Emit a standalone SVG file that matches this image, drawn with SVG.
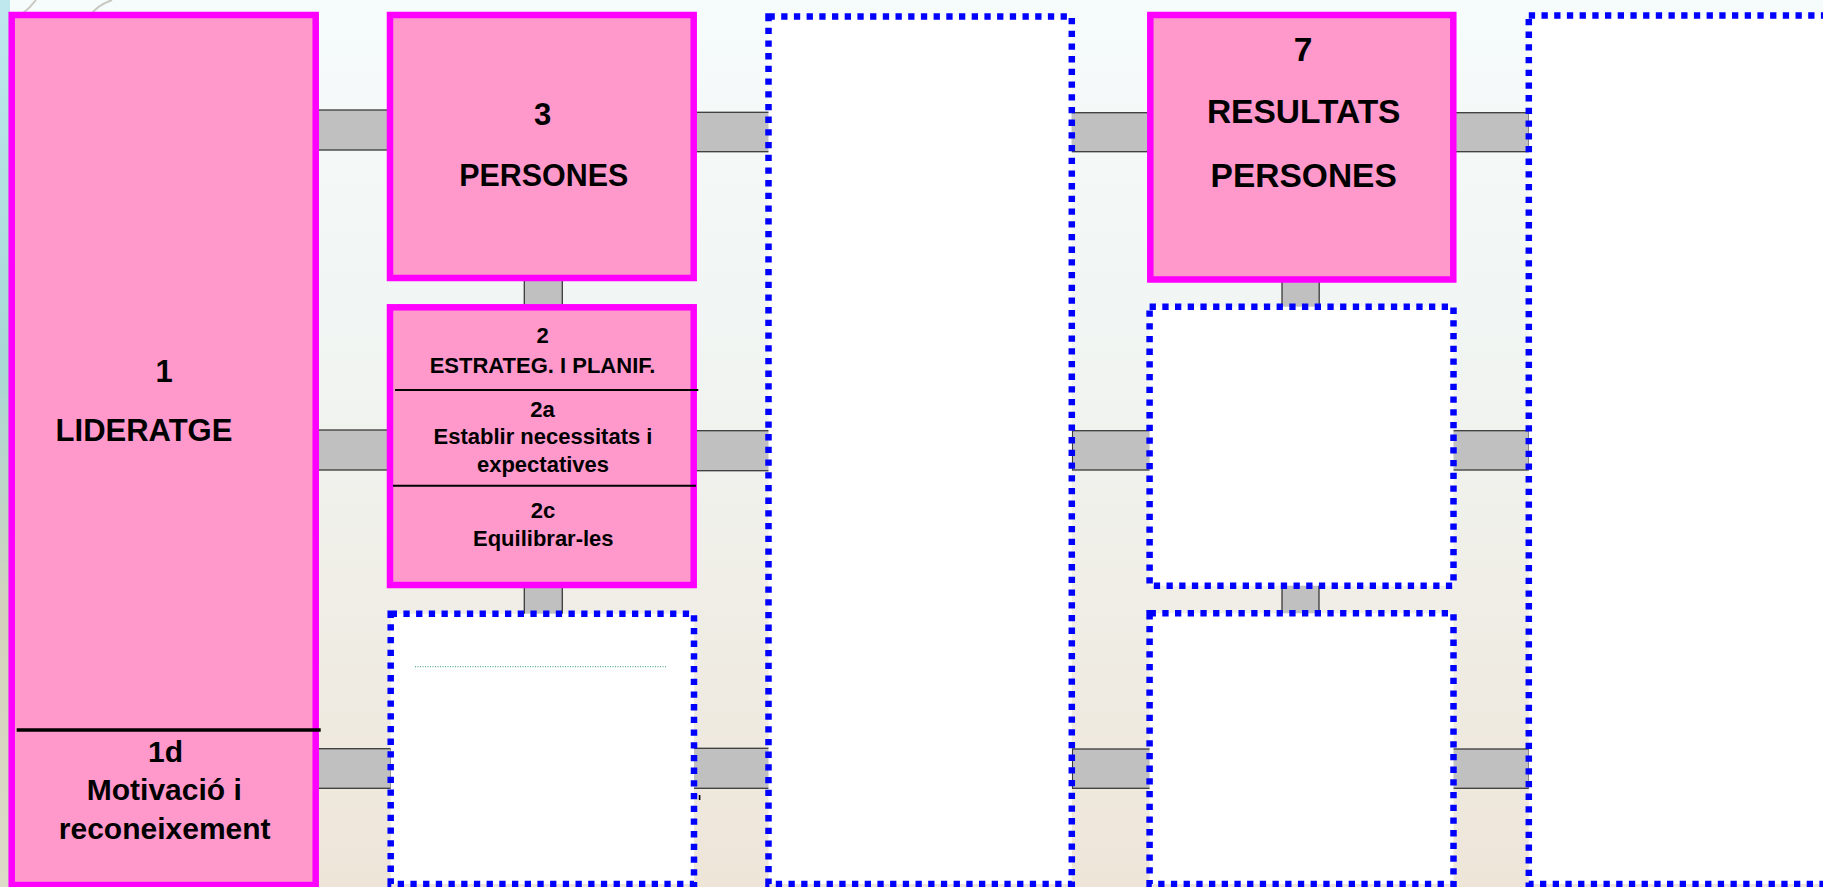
<svg xmlns="http://www.w3.org/2000/svg" width="1823" height="887" viewBox="0 0 1823 887">
<defs>
<linearGradient id="bg" x1="0" y1="0" x2="0" y2="1">
<stop offset="0" stop-color="#F6FBFB"/>
<stop offset="0.35" stop-color="#F1F6F4"/>
<stop offset="1" stop-color="#EEE5D8"/>
</linearGradient>
<linearGradient id="edge" x1="0" y1="0" x2="0" y2="1">
<stop offset="0" stop-color="#BFE8EE"/>
<stop offset="0.4" stop-color="#A9D8D6"/>
<stop offset="0.7" stop-color="#D4D2BC"/>
<stop offset="1" stop-color="#DCDCC8"/>
</linearGradient>
<style>
.pink{fill:#FF99CC;stroke:#FF00FF;stroke-width:6.5}
.dot{fill:#FFFFFF;stroke:#0000FF;stroke-width:6.5;stroke-dasharray:6.3 6.4}
.conn{fill:#C0C0C0;stroke:#3A3A3A;stroke-width:1.3}
.div{stroke:#000;fill:none}
text{font-family:"Liberation Sans",Arial,Helvetica,sans-serif;font-weight:bold;fill:#000;text-anchor:middle}
.t31{font-size:31px}
.t30{font-size:30px}
.t22{font-size:22px}
.t34{font-size:33.5px}
</style>
</defs>
<rect x="0" y="0" width="1823" height="887" fill="url(#bg)"/>
<rect x="0" y="0" width="10" height="887" fill="url(#edge)"/>
<path d="M112 0 Q96 6 92 14 M36 0 Q30 8 22 14" stroke="#C8C8C0" stroke-width="2" fill="none"/>

<g id="connectors">
<rect class="conn" x="314" y="110" width="78" height="40"/>
<rect class="conn" x="692" y="112.3" width="79.7" height="39.4"/>
<rect class="conn" x="1071" y="112.7" width="81" height="39"/>
<rect class="conn" x="1451" y="112.7" width="78" height="39"/>
<rect class="conn" x="314" y="430" width="78" height="40"/>
<rect class="conn" x="692" y="430.7" width="79.7" height="40"/>
<rect class="conn" x="1072.4" y="430.7" width="79" height="39.3"/>
<rect class="conn" x="1452" y="430.7" width="77" height="39.3"/>
<rect class="conn" x="314" y="748.7" width="77" height="39.6"/>
<rect class="conn" x="693" y="748.3" width="78.7" height="40"/>
<rect class="conn" x="1072.4" y="749" width="79" height="39.3"/>
<rect class="conn" x="1452" y="749" width="77" height="39.3"/>
<rect class="conn" x="524.3" y="276" width="38" height="33"/>
<rect class="conn" x="524.3" y="583" width="38" height="32"/>
<rect class="conn" x="1282" y="277" width="37.2" height="32"/>
<rect class="conn" x="1282" y="584" width="37" height="31"/>
</g>

<g id="node-1">
<rect class="pink" x="11.7" y="15" width="304" height="870"/>
<line class="div" x1="16.7" y1="730" x2="320.7" y2="730" stroke-width="3.3"/>
<text class="t31" x="164" y="381.7">1</text>
<text class="t31" x="144" y="440.7">LIDERATGE</text>
<text class="t30" x="165.5" y="761.7">1d</text>
<text class="t30" x="164.3" y="800">Motivació i</text>
<text class="t30" x="164.7" y="839.3">reconeixement</text>
</g>

<g id="node-3">
<rect class="pink" x="390" y="15" width="303.7" height="263"/>
<text class="t31" x="542.5" y="125">3</text>
<text class="t31" x="543.8" y="186" textLength="169" lengthAdjust="spacingAndGlyphs">PERSONES</text>
</g>

<g id="node-2">
<rect class="pink" x="390" y="307.3" width="303.7" height="277.7"/>
<line class="div" x1="395" y1="390" x2="698.3" y2="390" stroke-width="2"/>
<line class="div" x1="393" y1="485.7" x2="696" y2="485.7" stroke-width="2"/>
<text class="t22" x="542.5" y="343.3">2</text>
<text class="t22" x="542.5" y="372.7">ESTRATEG. I PLANIF.</text>
<text class="t22" x="542.5" y="416.7">2a</text>
<text class="t22" x="543" y="444">Establir necessitats i</text>
<text class="t22" x="543" y="471.7">expectatives</text>
<text class="t22" x="543" y="518.3">2c</text>
<text class="t22" x="543.3" y="546">Equilibrar-les</text>
</g>

<g id="node-2-below">
<rect class="dot" x="390.7" y="613.7" width="303.3" height="270.3"/>
<line x1="415" y1="666.7" x2="667.3" y2="666.7" stroke="#2E9E6E" stroke-width="1" stroke-dasharray="1 1.5"/>
<rect x="698.8" y="795" width="1.6" height="5" fill="#000"/>
</g>

<g id="node-col3">
<rect class="dot" x="768.5" y="16.5" width="303.3" height="867.5"/>
</g>

<g id="node-7">
<rect class="pink" x="1150.3" y="15" width="303" height="264.5"/>
<text class="t34" x="1303" y="61">7</text>
<text class="t34" x="1303.7" y="122.7">RESULTATS</text>
<text class="t34" x="1303.7" y="186.7">PERSONES</text>
</g>

<g id="node-7-mid">
<rect class="dot" x="1149.6" y="306.7" width="303.9" height="279"/>
</g>

<g id="node-7-low">
<rect class="dot" x="1149.6" y="613.3" width="303.9" height="270.7"/>
</g>

<g id="node-col7">
<rect class="dot" x="1528.8" y="15.5" width="400" height="868.5"/>
</g>
</svg>
